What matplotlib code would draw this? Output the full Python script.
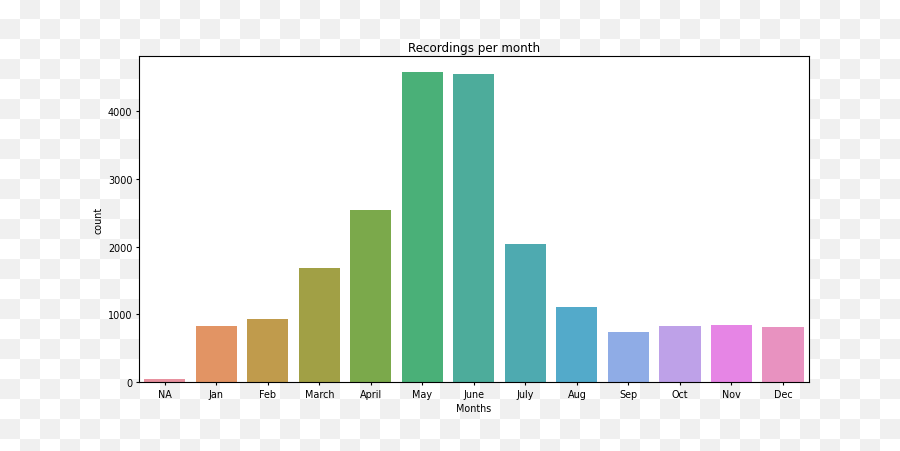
import numpy as np
import matplotlib
matplotlib.use("Agg")
import matplotlib.pyplot as plt

# Datos: número de grabaciones por mes
meses = ["NA", "Jan", "Feb", "March", "April", "May", "June",
         "July", "Aug", "Sep", "Oct", "Nov", "Dec"]
conteos = [45, 828, 931, 1681, 2534, 4578, 4549, 2034, 1107, 735, 823, 838, 809]

# Colores tomados de la imagen (paleta husl desaturada)
colores = ["#e8919f", "#e29464", "#c09b4c", "#a1a045", "#7ba94b", "#4ab078", "#4dac9b",
           "#4eaab0", "#53aaca", "#8facE6", "#bea1e8", "#e685e5", "#e892c0"]

# Escala de tamaños (la imagen original estaba reducida)
esc = 0.69
plt.rcParams.update({
    "font.size": 10 * esc,
    "axes.titlesize": 8.6,
    "axes.labelsize": 10 * esc,
    "xtick.labelsize": 10 * esc,
    "ytick.labelsize": 10 * esc,
    "xtick.major.size": 3.5 * esc,
    "ytick.major.size": 3.5 * esc,
    "xtick.major.pad": 3.5 * esc,
    "ytick.major.pad": 3.5 * esc,
    "axes.labelpad": 4 * esc,
    "axes.linewidth": 0.8,
})

fig = plt.figure(figsize=(9, 4.52), dpi=100)

# Fondo de tablero (transparencia en la imagen original)
fondo = fig.add_axes([0, 0, 1, 1], zorder=-1)
filas, cols = 23, 45
tablero = (np.add.outer(np.arange(filas), np.arange(cols)) % 2).astype(float)
fondo.imshow(tablero, cmap=matplotlib.colors.ListedColormap(["#ffffff", "#f0f0f0"]),
             extent=(0, cols * 20, filas * 20, 0), interpolation="nearest", aspect="auto")
fondo.set_xlim(0, 900)
fondo.set_ylim(452, 0)
fondo.axis("off")

ax = fig.add_axes([139 / 900, 1 - 383.3 / 452, (808.7 - 139) / 900, (383.3 - 57.3) / 452])
x = np.arange(len(meses))
ax.bar(x, conteos, width=0.8, color=colores)
ax.set_xlim(-0.5, len(meses) - 0.5)
ax.set_ylim(0, max(conteos) * 1.05)
ax.set_xticks(x)
ax.set_xticklabels(meses)
ax.set_yticks([0, 1000, 2000, 3000, 4000])
ax.set_xlabel("Months")
ax.set_ylabel("count")
ax.set_title("Recordings per month", pad=4)

fig.savefig("out.png", dpi=100)
